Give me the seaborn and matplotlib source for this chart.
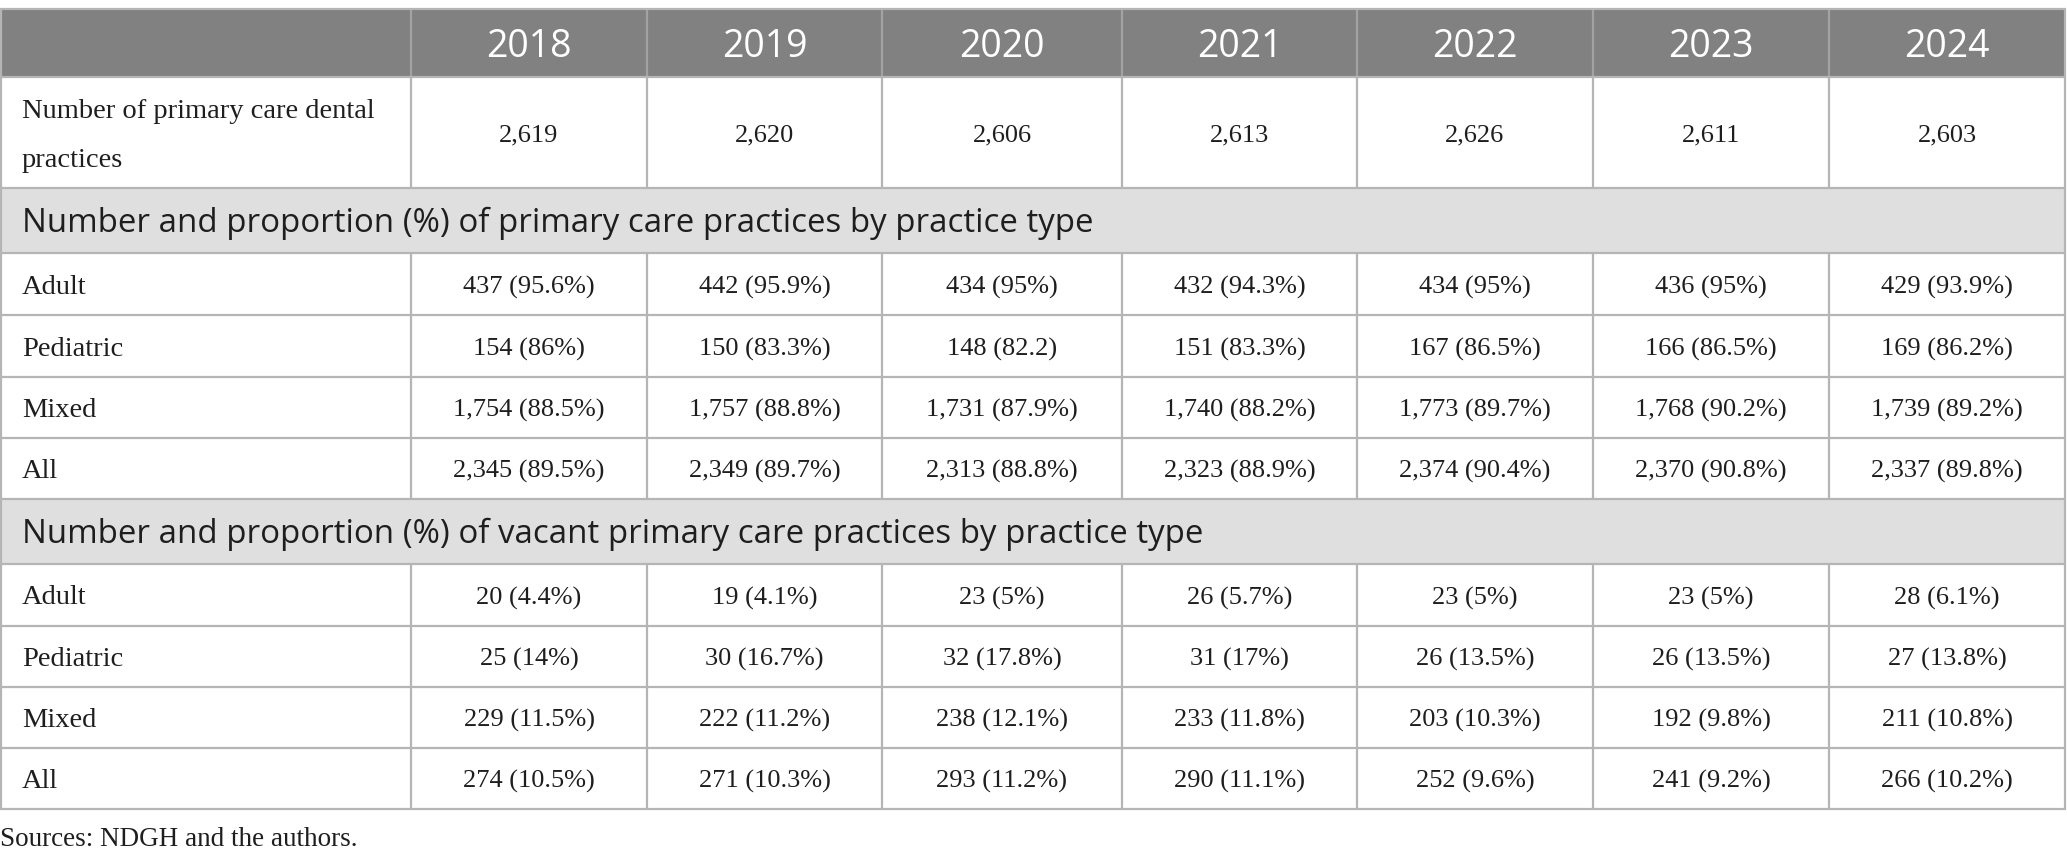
import matplotlib
matplotlib.use("Agg")
import matplotlib.pyplot as plt
import seaborn as sns
from matplotlib.patches import Rectangle

# ---------------- data ----------------
years = ["2018", "2019", "2020", "2021", "2022", "2023", "2024"]
total_practices = [2619, 2620, 2606, 2613, 2626, 2611, 2603]

section1_title = "Number and proportion (%) of primary care practices by practice type"
section2_title = "Number and proportion (%) of vacant primary care practices by practice type"
row_types = ["Adult", "Pediatric", "Mixed", "All"]

prim_adult_n = [437, 442, 434, 432, 434, 436, 429]
prim_adult_p = ["95.6%", "95.9%", "95%", "94.3%", "95%", "95%", "93.9%"]
prim_ped_n = [154, 150, 148, 151, 167, 166, 169]
prim_ped_p = ["86%", "83.3%", "82.2", "83.3%", "86.5%", "86.5%", "86.2%"]
prim_mix_n = [1754, 1757, 1731, 1740, 1773, 1768, 1739]
prim_mix_p = ["88.5%", "88.8%", "87.9%", "88.2%", "89.7%", "90.2%", "89.2%"]
prim_all_n = [2345, 2349, 2313, 2323, 2374, 2370, 2337]
prim_all_p = ["89.5%", "89.7%", "88.8%", "88.9%", "90.4%", "90.8%", "89.8%"]

vac_adult_n = [20, 19, 23, 26, 23, 23, 28]
vac_adult_p = ["4.4%", "4.1%", "5%", "5.7%", "5%", "5%", "6.1%"]
vac_ped_n = [25, 30, 32, 31, 26, 26, 27]
vac_ped_p = ["14%", "16.7%", "17.8%", "17%", "13.5%", "13.5%", "13.8%"]
vac_mix_n = [229, 222, 238, 233, 203, 192, 211]
vac_mix_p = ["11.5%", "11.2%", "12.1%", "11.8%", "10.3%", "9.8%", "10.8%"]
vac_all_n = [274, 271, 293, 290, 252, 241, 266]
vac_all_p = ["10.5%", "10.3%", "11.2%", "11.1%", "9.6%", "9.2%", "10.2%"]

first_row_label = ["Number of primary care dental", "practices"]
source_note = "Sources: NDGH and the authors."

# ---------------- style ----------------
sns.set_theme(style="white")
plt.rcParams["font.family"] = ["Liberation Serif", "DejaVu Serif"]

HEADER_BG = "#808180"
SECTION_BG = "#e0dfe0"
LINE = "#b5b5b5"
TEXT = "#1e1e1e"
SANS = ["Open Sans", "DejaVu Sans"]
SERIF = ["Liberation Serif", "DejaVu Serif"]

FS_HEAD = 27
FS_SECT = 23.8
FS_LABEL = 20.5
FS_VAL = 19
FS_NOTE = 19.5

W, H = 2067, 866
fig = plt.figure(figsize=(W / 100, H / 100), dpi=100)
ax = fig.add_axes([0, 0, 1, 1])
ax.set_xlim(0, W)
ax.set_ylim(H, 0)
ax.axis("off")

col_w = [411, 236, 235, 240, 235, 236, 236, 236]
row_h = [68, 111, 65, 62, 62, 61, 61, 65, 62, 61, 61, 61]
top = 9
xs = [0]
for w in col_w:
    xs.append(xs[-1] + w)
ys = [top]
for h in row_h:
    ys.append(ys[-1] + h)
x_right = xs[-1]

def fmt(n, p):
    return f"{n:,} ({p})"

prim_rows = [(prim_adult_n, prim_adult_p), (prim_ped_n, prim_ped_p),
             (prim_mix_n, prim_mix_p), (prim_all_n, prim_all_p)]
vac_rows = [(vac_adult_n, vac_adult_p), (vac_ped_n, vac_ped_p),
            (vac_mix_n, vac_mix_p), (vac_all_n, vac_all_p)]

rows = [("header", None, years),
        ("data2", first_row_label, [f"{v:,}" for v in total_practices]),
        ("section", section1_title, None)]
for lab, (n, p) in zip(row_types, prim_rows):
    rows.append(("data", lab, [fmt(a, b) for a, b in zip(n, p)]))
rows.append(("section", section2_title, None))
for lab, (n, p) in zip(row_types, vac_rows):
    rows.append(("data", lab, [fmt(a, b) for a, b in zip(n, p)]))

LW = 1.6
for i, (kind, label, vals) in enumerate(rows):
    y0, y1 = ys[i], ys[i + 1]
    yc = (y0 + y1) / 2
    if kind == "header":
        ax.add_patch(Rectangle((0, y0), x_right, y1 - y0, facecolor=HEADER_BG,
                               edgecolor="none", zorder=0))
        for j, v in enumerate(vals):
            xc = (xs[j + 1] + xs[j + 2]) / 2
            ax.text(xc, yc + 4, v, ha="center", va="center", color="white",
                    fontsize=FS_HEAD, family=SANS)
        for xv in xs[1:-1]:
            ax.plot([xv, xv], [y0, y1], color="#a3a3a3", lw=LW, zorder=2)
    elif kind == "section":
        ax.add_patch(Rectangle((0, y0), x_right, y1 - y0, facecolor=SECTION_BG,
                               edgecolor="none", zorder=0))
        ax.text(22, yc + 3, label, ha="left", va="center", color=TEXT,
                fontsize=FS_SECT, family=SANS)
    else:
        if kind == "data2":
            ax.text(22, yc - 21, label[0], ha="left", va="center", color=TEXT,
                    fontsize=FS_LABEL, family=SERIF)
            ax.text(22, yc + 28, label[1], ha="left", va="center", color=TEXT,
                    fontsize=FS_LABEL, family=SERIF)
        else:
            ax.text(22, yc + 3, label, ha="left", va="center", color=TEXT,
                    fontsize=FS_LABEL, family=SERIF)
        for j, v in enumerate(vals):
            xc = (xs[j + 1] + xs[j + 2]) / 2
            ax.text(xc, yc + 3, v, ha="center", va="center", color=TEXT,
                    fontsize=FS_VAL, family=SERIF)
        for xv in xs[1:-1]:
            ax.plot([xv, xv], [y0, y1], color=LINE, lw=LW, zorder=2)

for yv in ys:
    ax.plot([0, x_right], [yv, yv], color=LINE, lw=LW, zorder=2)
ax.plot([1, 1], [ys[0], ys[-1]], color=LINE, lw=LW, zorder=2)
ax.plot([x_right, x_right], [ys[0], ys[-1]], color=LINE, lw=LW, zorder=2)

ax.text(0, ys[-1] + 30, source_note, ha="left", va="center", color=TEXT,
        fontsize=FS_NOTE, family=SERIF)

fig.savefig("out.png", dpi=100)
